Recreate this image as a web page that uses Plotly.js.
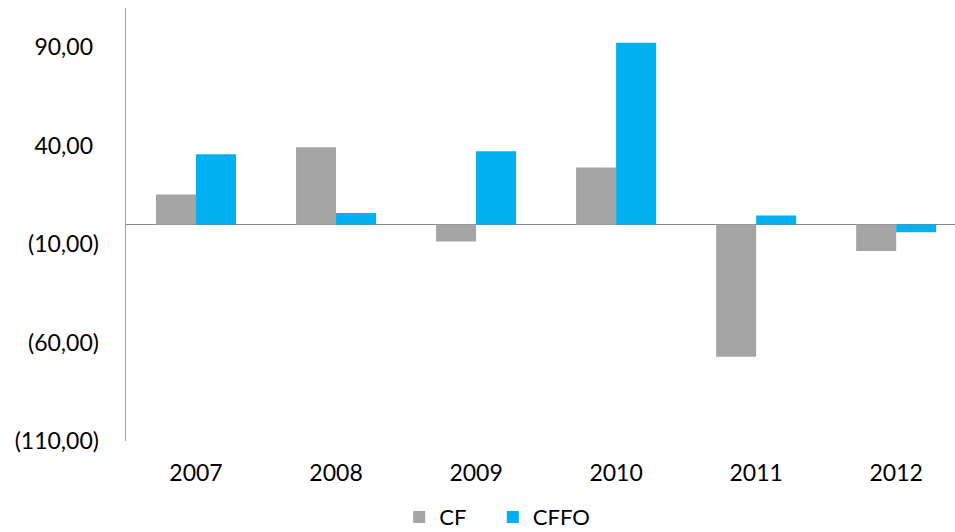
<!DOCTYPE html>
<html>
<head>
<meta charset="utf-8">
<script src="https://cdn.plot.ly/plotly-3.0.1.min.js"></script>
<style>html,body{margin:0;padding:0;background:#fff;}#chart{width:955px;height:532px;}</style>
</head>
<body>
<div id="chart"></div>
<script>
const categories = ["2007", "2008", "2009", "2010", "2011", "2012"];
const cfValues = [15.2, 39.2, -8.6, 29.0, -67.2, -13.5];
const cffoValues = [35.7, 5.9, 37.2, 92.4, 4.6, -3.9];
const yTickValues = [-110, -60, -10, 40, 90];
const yTickLabels = ["(110,00)", "(60,00)", "(10,00)", "40,00\u00a0", "90,00\u00a0"];

const font = "Lato, 'Open Sans', sans-serif";

const traces = [
  {type: "bar", name: "CF", x: categories, y: cfValues, marker: {color: "#A5A5A5"}, hoverinfo: "skip", legend: "legend"},
  {type: "bar", name: "CFFO", x: categories, y: cffoValues, marker: {color: "#00B0F0"}, hoverinfo: "skip", legend: "legend2"}
];

const legendCommon = {orientation: "h", xref: "container", yref: "container", xanchor: "left", y: 0.028, yanchor: "middle",
  font: {family: font, size: 22, color: "#000000"}, itemwidth: 30, bgcolor: "rgba(0,0,0,0)"};

const layout = {
  width: 955, height: 532,
  margin: {l: 126, r: 0, t: 8, b: 91, pad: 0, autoexpand: false},
  paper_bgcolor: "#ffffff", plot_bgcolor: "#ffffff",
  font: {family: font, size: 23, color: "#000000"},
  barmode: "group", bargap: 0.4286, bargroupgap: 0,
  showlegend: true,
  legend: Object.assign({}, legendCommon, {x: 0.418}),
  legend2: Object.assign({}, legendCommon, {x: 0.516}),
  xaxis: {type: "category", range: [-0.5, 5.42], showline: false, showgrid: false, zeroline: false, automargin: false,
          ticks: "", ticklabelstandoff: 16, tickfont: {family: font, size: 23, color: "#000000"}},
  yaxis: {range: [-110, 110], tickvals: yTickValues, ticktext: yTickLabels, showgrid: false, automargin: false,
          zeroline: true, zerolinecolor: "#898989", zerolinewidth: 1.5,
          showline: true, linecolor: "#A0A0A0", linewidth: 1.5, ticks: "",
          ticklabelstandoff: 21, tickfont: {family: font, size: 23, color: "#000000"}}
};

Plotly.newPlot("chart", traces, layout, {staticPlot: true, displayModeBar: false});
</script>
</body>
</html>
